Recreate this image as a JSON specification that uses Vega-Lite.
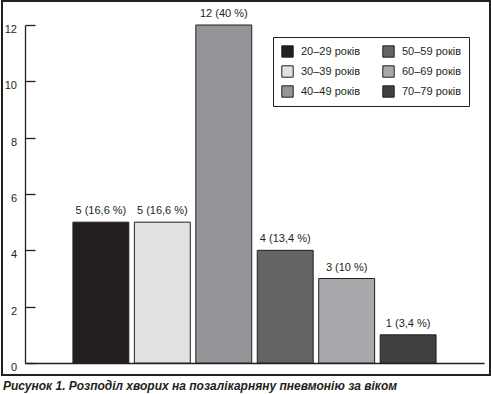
{
  "$schema": "https://vega.github.io/schema/vega-lite/v6.json",
  "autosize": "none",
  "padding": {"left": 2, "top": 1, "right": 1, "bottom": 18},
  "width": 488,
  "height": 374,
  "title": {
    "text": "Рисунок 1. Розподіл хворих на позалікарняну пневмонію за віком",
    "orient": "bottom",
    "anchor": "start",
    "frame": "group",
    "font": "Liberation Sans",
    "fontStyle": "italic",
    "fontWeight": "bold",
    "fontSize": 12,
    "color": "#231f20",
    "offset": 6,
    "dx": 1
  },
  "config": {
    "view": {"stroke": "#231f20", "strokeWidth": 2},
    "font": "Liberation Sans"
  },
  "data": {
    "values": [
      {"group": "20–29 років", "count": 5, "label": "5 (16,6 %)"},
      {"group": "30–39 років", "count": 5, "label": "5 (16,6 %)"},
      {"group": "40–49 років", "count": 12, "label": "12 (40 %)"},
      {"group": "50–59 років", "count": 4, "label": "4 (13,4 %)"},
      {"group": "60–69 років", "count": 3, "label": "3 (10 %)"},
      {"group": "70–79 років", "count": 1, "label": "1 (3,4 %)"}
    ]
  },
  "encoding": {
    "x": {
      "field": "group",
      "type": "nominal",
      "sort": ["20–29 років", "30–39 років", "40–49 років", "50–59 років", "60–69 років", "70–79 років"],
      "scale": {"range": [23, 482], "paddingInner": 0.09, "paddingOuter": 0.78},
      "axis": {
        "title": null,
        "labels": false,
        "ticks": false,
        "offset": -12,
        "domainColor": "#231f20",
        "domainWidth": 1.3
      }
    },
    "y": {
      "field": "count",
      "type": "quantitative",
      "scale": {"domain": [0, 12], "range": [362, 24], "nice": false},
      "axis": {
        "title": null,
        "values": [0, 2, 4, 6, 8, 10, 12],
        "grid": false,
        "offset": -23,
        "domainColor": "#231f20",
        "domainWidth": 1.3,
        "tickColor": "#231f20",
        "tickWidth": 1.3,
        "tickSize": -10,
        "labelPadding": 18.5,
        "labelOffset": 4.5,
        "labelFont": "Liberation Sans",
        "labelFontSize": 11,
        "labelColor": "#231f20"
      }
    }
  },
  "layer": [
    {
      "mark": {"type": "bar", "stroke": "#231f20", "strokeWidth": 1},
      "encoding": {
        "color": {
          "field": "group",
          "type": "nominal",
          "scale": {
            "domain": ["20–29 років", "30–39 років", "40–49 років", "50–59 років", "60–69 років", "70–79 років"],
            "range": ["#231f20", "#e0e1e3", "#939598", "#636466", "#a7a9ac", "#414042"]
          },
          "legend": {
            "title": null,
            "orient": "none",
            "legendX": 271,
            "legendY": 36,
            "columns": 2,
            "columnPadding": 22,
            "rowPadding": 7,
            "padding": 8,
            "strokeColor": "#231f20",
            "symbolType": "square",
            "symbolSize": 130,
            "symbolStrokeColor": "#231f20",
            "symbolStrokeWidth": 1,
            "symbolOpacity": 1,
            "labelFont": "Liberation Sans",
            "labelFontSize": 11,
            "labelColor": "#231f20",
            "labelOffset": 7,
            "clipHeight": 13
          }
        }
      }
    },
    {
      "mark": {"type": "text", "dy": -8, "baseline": "alphabetic", "fontSize": 11, "color": "#231f20", "font": "Liberation Sans"},
      "encoding": {"text": {"field": "label"}}
    }
  ]
}
